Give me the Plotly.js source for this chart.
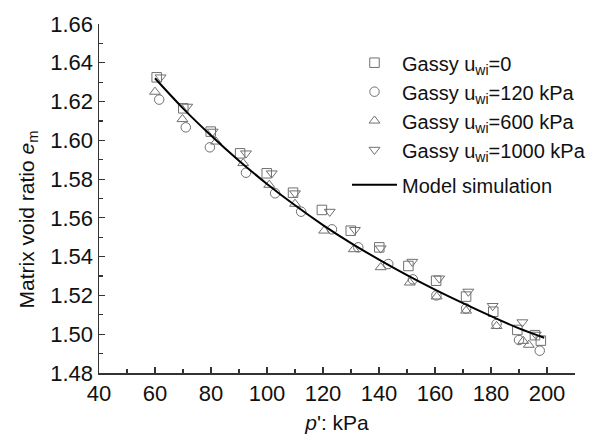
<!DOCTYPE html>
<html>
<head>
<meta charset="utf-8">
<script src="https://cdn.plot.ly/plotly-3.0.1.min.js"></script>
<style>html,body{margin:0;padding:0;background:#fff;}#chart{width:591px;height:445px;}</style>
</head>
<body>
<div id="chart"></div>
<script>
// Gassy u_wi = 0 (squares)
const sqX = [60.6, 70.1, 79.9, 90.4, 99.9, 109.3, 119.6, 129.9, 140.1, 150.5, 160.4, 171.1, 180.8, 189.4, 195.7, 197.8];
const sqY = [1.6325, 1.6165, 1.6045, 1.5933, 1.583, 1.573, 1.5641, 1.5534, 1.5448, 1.5352, 1.5276, 1.5194, 1.5116, 1.5022, 1.4995, 1.4967];
// Gassy u_wi = 120 kPa (circles)
const ciX = [61.5, 71, 79.6, 92.5, 102.9, 112.2, 123.2, 132.6, 143.3, 152.1, 160.5, 171.1, 182, 190, 197.4];
const ciY = [1.621, 1.6067, 1.5964, 1.5833, 1.5727, 1.5632, 1.5541, 1.5448, 1.5362, 1.5283, 1.52, 1.5133, 1.5053, 1.497, 1.4915];
// Gassy u_wi = 600 kPa (up triangles)
const tuX = [60, 69.8, 81.8, 91.5, 100.8, 110, 120.4, 131, 140.6, 151, 160.6, 171.1, 182, 191.5, 193.5];
const tuY = [1.625, 1.6109, 1.5993, 1.5882, 1.577, 1.5672, 1.5534, 1.5438, 1.5345, 1.5266, 1.5194, 1.5121, 1.5042, 1.4965, 1.4945];
// Gassy u_wi = 1000 kPa (down triangles)
const tdX = [62, 71.5, 80.6, 92.5, 101.7, 110, 122.4, 131.4, 140.6, 151.9, 161.5, 171.9, 180.6, 191.2, 196];
const tdY = [1.6325, 1.6174, 1.6045, 1.5933, 1.583, 1.5727, 1.5632, 1.5538, 1.5443, 1.5374, 1.5288, 1.522, 1.5146, 1.5062, 1.4998];
// Model simulation
const modX = [60, 70, 80, 90, 100, 110, 120, 130, 140, 150, 160, 170, 180, 190, 199];
const modY = [1.632, 1.6165, 1.6025, 1.5895, 1.5775, 1.5665, 1.5563, 1.547, 1.5385, 1.5305, 1.523, 1.516, 1.5093, 1.503, 1.4982];

const names = ['Gassy u<sub>wi</sub>=0', 'Gassy u<sub>wi</sub>=120 kPa', 'Gassy u<sub>wi</sub>=600 kPa', 'Gassy u<sub>wi</sub>=1000 kPa', 'Model simulation'];
const yTitle = 'Matrix void ratio <i>e</i><sub>m</sub>';
const xTitle = "<i>p</i>': kPa";

const gray = '#707070';
function pts(x, y, sym, name) {
  return {x: x, y: y, type: 'scatter', mode: 'markers', name: name, legendgroup: 'exp',
    marker: {symbol: sym, size: 9.5, color: gray, line: {color: gray, width: 1}}};
}
const data = [
  pts(sqX, sqY, 'square-open', names[0]),
  pts(ciX, ciY, 'circle-open', names[1]),
  pts(tuX, tuY, 'triangle-up-open', names[2]),
  pts(tdX, tdY, 'triangle-down-open', names[3]),
  {x: modX, y: modY, type: 'scatter', mode: 'lines', name: names[4], legendgroup: 'model',
   line: {color: '#000', width: 2, shape: 'spline'}}
];
const fam = 'Liberation Sans, Arial, sans-serif';
const tickfont = {family: fam, size: 22, color: '#111'};
const titlefont = {family: fam, size: 21, color: '#111'};
const layout = {
  width: 591, height: 445,
  margin: {l: 99, r: 16, t: 24, b: 72, autoexpand: false},
  paper_bgcolor: '#fff', plot_bgcolor: '#fff',
  font: {family: fam, color: '#111'},
  showlegend: true,
  legend: {x: 0.521, y: 0.945, xanchor: 'left', yanchor: 'top', bgcolor: 'rgba(0,0,0,0)',
    font: {family: fam, size: 20, color: '#111'},
    itemwidth: 45, tracegroupgap: 6},
  xaxis: {range: [40, 210], dtick: 20, tick0: 40, ticks: 'inside', ticklen: 6, tickwidth: 1.2,
    tickcolor: '#333', showline: true, linecolor: '#333', linewidth: 1.5, showgrid: false, zeroline: false,
    tickfont: tickfont, minor: {dtick: 10, ticks: 'inside', ticklen: 4, tickcolor: '#333', showgrid: false},
    title: {text: xTitle, font: titlefont, standoff: 10}},
  yaxis: {range: [1.48, 1.66], dtick: 0.02, tick0: 1.48, tickformat: '.2f', ticks: 'inside', ticklen: 6, tickwidth: 1.2,
    tickcolor: '#333', showline: true, linecolor: '#333', linewidth: 1.5, showgrid: false, zeroline: false,
    tickfont: tickfont, minor: {dtick: 0.01, ticks: 'inside', ticklen: 4, tickcolor: '#333', showgrid: false}},
  annotations: [{text: yTitle, xref: 'paper', yref: 'paper', x: -0.149, y: 0.44, xanchor: 'center', yanchor: 'middle',
    textangle: -90, showarrow: false, font: titlefont}]
};
Plotly.newPlot('chart', data, layout, {displayModeBar: false, staticPlot: true});
</script>
</body>
</html>
